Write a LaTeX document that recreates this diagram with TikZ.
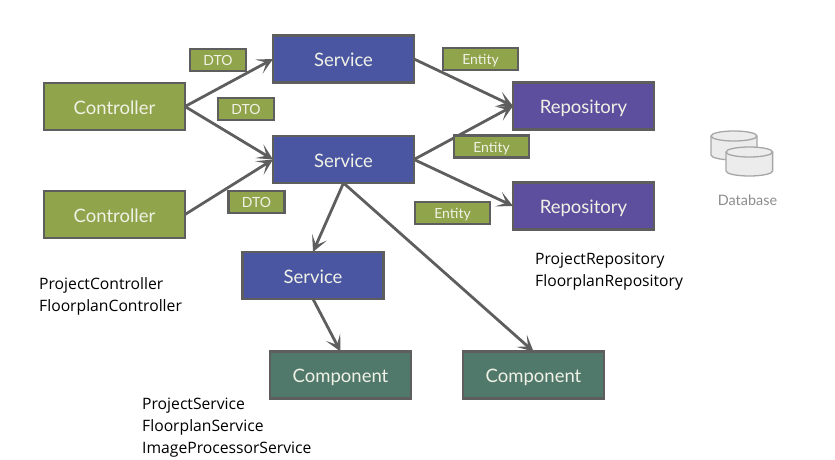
\documentclass[tikz,border=0pt]{standalone}
\usepackage{fontspec}
\setmainfont{Lato}
\newfontfamily\notefont{Open Sans}
\usetikzlibrary{arrows.meta}
\definecolor{edgegray}{HTML}{5E5E5E}
\definecolor{ctrlgreen}{HTML}{90A44B}
\definecolor{svcblue}{HTML}{4A56A2}
\definecolor{repopurple}{HTML}{5E4F9E}
\definecolor{compteal}{HTML}{50796B}
\definecolor{boxtext}{HTML}{F0F2E6}
\definecolor{dbline}{HTML}{A6A6A6}
\definecolor{dbfill}{HTML}{ECECEC}
\definecolor{dbtext}{HTML}{8C8C8C}
\tikzset{
  x=1pt,y=-1pt,
  bigbox/.style={draw=edgegray,line width=2.6pt,minimum width=141pt,minimum height=47pt,inner sep=0pt,outer sep=0pt,text=boxtext,text height=17pt,text depth=2pt,font=\fontsize{18.5}{22}\selectfont},
  ctrlbox/.style={bigbox,fill=ctrlgreen},
  svcbox/.style={bigbox,fill=svcblue},
  repobox/.style={bigbox,fill=repopurple},
  compbox/.style={bigbox,fill=compteal},
  tagbox/.style={draw=edgegray,fill=ctrlgreen,line width=2.4pt,minimum height=22pt,inner sep=0pt,outer sep=0pt,text=boxtext,text height=13pt,text depth=2pt,font=\fontsize{14}{16}\selectfont},
  dtotag/.style={tagbox,minimum width=56pt},
  entitytag/.style={tagbox,minimum width=75pt},
  flow/.style={draw=edgegray,line width=2.8pt,-{Stealth[length=16pt,width=16pt,inset=8.5pt]}},
  note/.style={align=left,anchor=north west,inner sep=0pt,text=black,font=\notefont\fontsize{15.7}{22}\selectfont},
  dbcyl/.style={draw=dbline,fill=dbfill,line width=1.3pt}
}
\begin{document}
\begin{tikzpicture}
\useasboundingbox (0,0) rectangle (835,460);
% main boxes
\node[ctrlbox] (c1) at (114.5,106.5) {Controller};
\node[ctrlbox] (c2) at (114.5,214.5) {Controller};
\node[svcbox] (s1) at (343.5,59) {Service};
\node[svcbox] (s2) at (343.5,159.5) {Service};
\node[svcbox] (s3) at (313,275.5) {Service};
\node[repobox] (r1) at (583.5,106) {Repository};
\node[repobox] (r2) at (583.5,206) {Repository};
\node[compbox] (k1) at (340.5,375) {Component};
\node[compbox] (k2) at (533.5,375) {Component};
% connectors
\draw[flow] (c1.east) -- (s1.west);
\draw[flow] (c1.east) -- (s2.west);
\draw[flow] (c2.east) -- (s2.west);
\draw[flow] (s1.east) -- (r1.west);
\draw[flow] (s2.east) -- (r1.west);
\draw[flow] (s2.east) -- (r2.west);
\draw[flow] (s2.south) -- (s3.north);
\draw[flow] (s2.south) -- (k2.north);
\draw[flow] (s3.south) -- (k1.north);
% tags
\node[dtotag] (d1) at (218,60) {DTO};
\node[dtotag] (d2) at (246,109) {DTO};
\node[dtotag] (d3) at (256.5,202) {DTO};
\node[entitytag] (e1) at (480.5,59) {Entity};
\node[entitytag] (e2) at (491.5,146.5) {Entity};
\node[entitytag] (e3) at (452.5,213) {Entity};
% notes
\node[note] (n1) at (39,277) {ProjectController\\FloorplanController};
\node[note] (n2) at (535,253) {ProjectRepository\\FloorplanRepository};
\node[note] (n3) at (142,398) {ProjectService\\FloorplanService\\ImageProcessorService};
% database icon
\draw[dbcyl] (711,136) -- (711,155) arc[start angle=180,end angle=360,x radius=23,y radius=-5] -- (757,136);
\draw[dbcyl] (734,136) ellipse[x radius=23,y radius=5];
\draw[dbcyl] (726,152) -- (726,171) arc[start angle=180,end angle=360,x radius=23.3,y radius=-5] -- (772.6,152);
\draw[dbcyl] (749.3,152) ellipse[x radius=23.3,y radius=5];
\node[text=dbtext,font=\fontsize{14.4}{16}\selectfont,inner sep=0pt] (db) at (747.5,200.5) {Database};
\end{tikzpicture}
\end{document}
